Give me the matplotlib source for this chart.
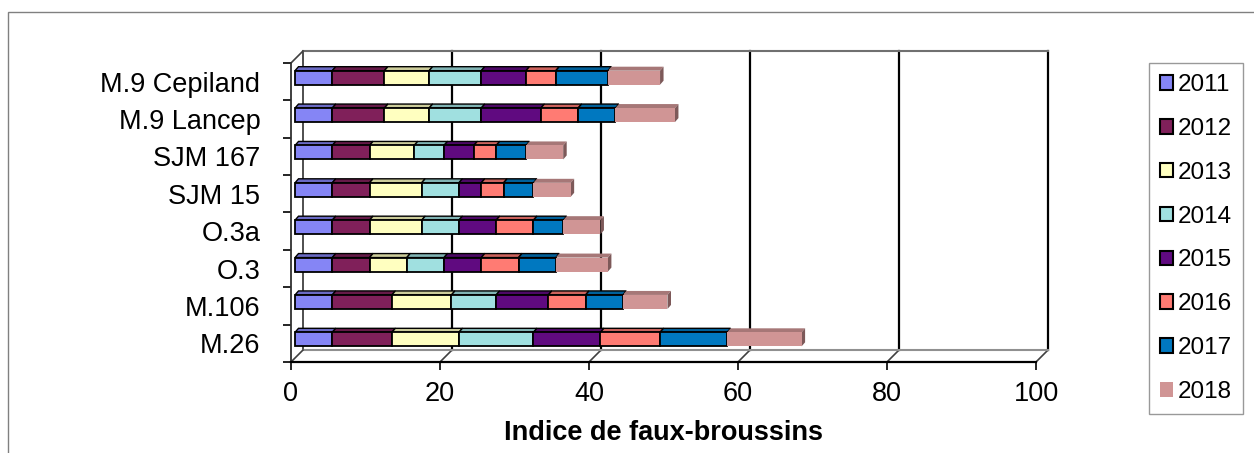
import numpy as np
import matplotlib.pyplot as plt
from matplotlib.patches import Polygon, Rectangle, Patch
from matplotlib.colors import to_rgb

plt.rcParams['font.family'] = ['Liberation Sans', 'DejaVu Sans']

# data (bottom to top)
porte_greffes = ['M.26', 'M.106', 'O.3', 'O.3a', 'SJM 15', 'SJM 167', 'M.9 Lancep', 'M.9 Cepiland']
annees = ['2011', '2012', '2013', '2014', '2015', '2016', '2017', '2018']
v2011 = [5, 5, 5, 5, 5, 5, 5, 5]
v2012 = [8, 8, 5, 5, 5, 5, 7, 7]
v2013 = [9, 8, 5, 7, 7, 6, 6, 6]
v2014 = [10, 6, 5, 5, 5, 4, 7, 7]
v2015 = [9, 7, 5, 5, 3, 4, 8, 6]
v2016 = [8, 5, 5, 5, 3, 3, 5, 4]
v2017 = [9, 5, 5, 4, 4, 4, 5, 7]
v2018 = [10, 6, 7, 5, 5, 5, 8, 7]
series = [v2011, v2012, v2013, v2014, v2015, v2016, v2017, v2018]
couleurs = ['#8585F5', '#80205A', '#FFFFC0', '#A0E0E0', '#600A80', '#FF7B73', '#0078C0', '#D09595']

W, H = 1254, 453
fig = plt.figure(figsize=(W / 100, H / 100), dpi=100)

# outer chart border
fig.patches.append(Rectangle((8 / W, -0.1), 1.2, 1 - 12 / H + 0.1, transform=fig.transFigure,
                             fill=False, edgecolor='#808080', lw=1.0))

x0, x1, ytop, ybot = 291, 1036, 63, 362
ax = fig.add_axes([x0 / W, 1 - ybot / H, (x1 - x0) / W, (ybot - ytop) / H])
ax.set_xlim(0, 100)
ax.set_ylim(-0.5, 7.5)

pxx = 100 / (x1 - x0)          # data units per pixel, x
pxy = 8 / (ybot - ytop)        # data units per pixel, y

# back wall (depth 12 px)
bx, by = 12 * pxx, 12 * pxy
kw = dict(clip_on=False, zorder=1)
for t in [20, 40, 60, 80, 100]:
    ax.plot([t + bx, t + bx], [-0.5 + by, 7.5 + by], color='black', lw=1.6, **kw)
    ax.plot([t, t + bx], [-0.5, -0.5 + by], color='#404040', lw=1.2, **kw)
ax.plot([bx, bx], [-0.5 + by, 7.5 + by], color='#404040', lw=1.3, **kw)
ax.plot([bx, 100 + bx], [7.5 + by, 7.5 + by], color='#707070', lw=1.5, **kw)
ax.plot([bx, 100 + bx], [-0.5 + by, -0.5 + by], color='#909090', lw=1.5, **kw)
ax.plot([0, bx], [-0.5, -0.5 + by], color='#404040', lw=1.2, **kw)
ax.plot([0, bx], [7.5, 7.5 + by], color='#404040', lw=1.2, **kw)


def assombrir(c, f):
    r, g, b = to_rgb(c)
    return (r * f, g * f, b * f)


# bars with pseudo-3D faces
ox, oy = 4 * pxx, 4 * pxy
dx, dy = 3.5 * pxx, 4 * pxy
h = 14 * pxy
y = np.arange(len(porte_greffes))
gauche = np.zeros(len(porte_greffes))
for j, vals in enumerate(series):
    vals = np.array(vals, dtype=float)
    bord = 'none' if j == len(series) - 1 else 'black'
    ax.barh(y + oy, vals, left=gauche + ox, height=h, color=couleurs[j],
            edgecolor=bord, lw=1.3, zorder=3)
    for i in range(len(y)):
        l = gauche[i] + ox
        r = l + vals[i]
        t = y[i] + oy + h / 2
        ax.add_patch(Polygon([(l, t), (r, t), (r + dx, t + dy), (l + dx, t + dy)],
                             closed=True, facecolor=assombrir(couleurs[j], 0.8),
                             edgecolor=bord, lw=1.0, zorder=2.5))
        if j == len(series) - 1:
            b = y[i] + oy - h / 2
            ax.add_patch(Polygon([(r, b), (r, t), (r + dx, t + dy), (r + dx, b + dy)],
                                 closed=True, facecolor=assombrir(couleurs[j], 0.6),
                                 edgecolor='none', zorder=2.5))
    gauche += vals

# axes
for s in ['top', 'right']:
    ax.spines[s].set_visible(False)
ax.spines['bottom'].set_linewidth(1.6)
ax.spines['left'].set_linewidth(1.3)
ax.spines['left'].set_color('#303030')
ax.set_xticks([0, 20, 40, 60, 80, 100])
ax.tick_params(axis='x', length=6, width=1.2, labelsize=19.5, pad=8)
ax.set_yticks(y)
ax.set_yticklabels(porte_greffes)
ax.tick_params(axis='y', which='major', length=0, labelsize=19.5, pad=22)
ax.set_yticks(np.arange(-0.5, 8, 1), minor=True)
ax.tick_params(axis='y', which='minor', length=6, width=1.2)
ax.set_xlabel('Indice de faux-broussins', fontsize=19.5, fontweight='bold', labelpad=9)

# legend
poignees = [Patch(facecolor=c, edgecolor='black' if k < 7 else 'none', lw=1.5)
            for k, c in enumerate(couleurs)]
leg = fig.legend(poignees, annees, loc='upper left', bbox_to_anchor=(1149 / W, 1 - 63 / H),
                 fontsize=17.5, frameon=True, fancybox=False, edgecolor='#808080',
                 handlelength=0.55, handleheight=0.55, handletextpad=0.2,
                 labelspacing=0.9, borderpad=0.45, borderaxespad=0)
leg.get_frame().set_linewidth(1.0)

fig.savefig('out.png', dpi=100)
